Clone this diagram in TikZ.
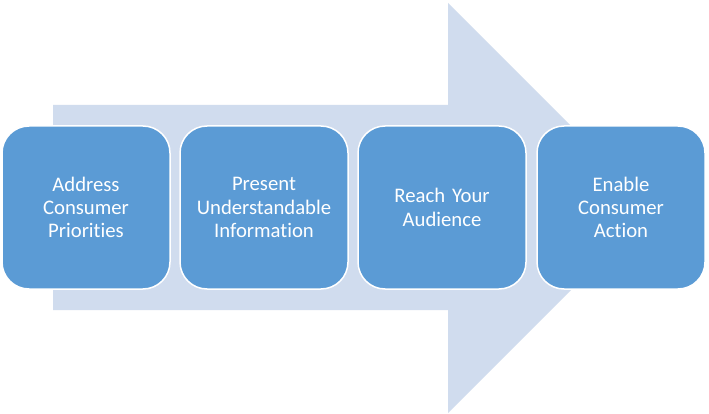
\documentclass[tikz,border=0pt]{standalone}
\usepackage{fontspec}
\setmainfont{Carlito}[Ligatures=NoCommon]
\definecolor{arrowfill}{HTML}{D0DCEE}
\definecolor{boxfill}{HTML}{5B9BD5}
\begin{document}
\begin{tikzpicture}[x=1pt,y=-1pt,
  stepbox/.style={draw=white, line width=1.5pt, fill=boxfill, rounded corners=27pt,
    minimum width=168pt, minimum height=163pt, inner sep=0pt, text=white,
    align=center, text width=160pt, font=\fontsize{20.7}{23.3}\selectfont}]
\useasboundingbox[fill=white] (0,0) rectangle (709,414);
\fill[arrowfill] (53,105) -- (448,105) -- (448,3) -- (653,208) -- (448,413) -- (448,310) -- (53,310) -- cycle;
\node[stepbox] (a) at (86,207.5) {Address\\Consumer\\Priorities};
\node[stepbox] (b) at (264,207.5) {Present\\Understandable\\Information};
\node[stepbox] (c) at (442,207.5) {Reach Your\\Audience};
\node[stepbox] (d) at (621,207.5) {Enable\\Consumer\\Action};
\end{tikzpicture}
\end{document}
